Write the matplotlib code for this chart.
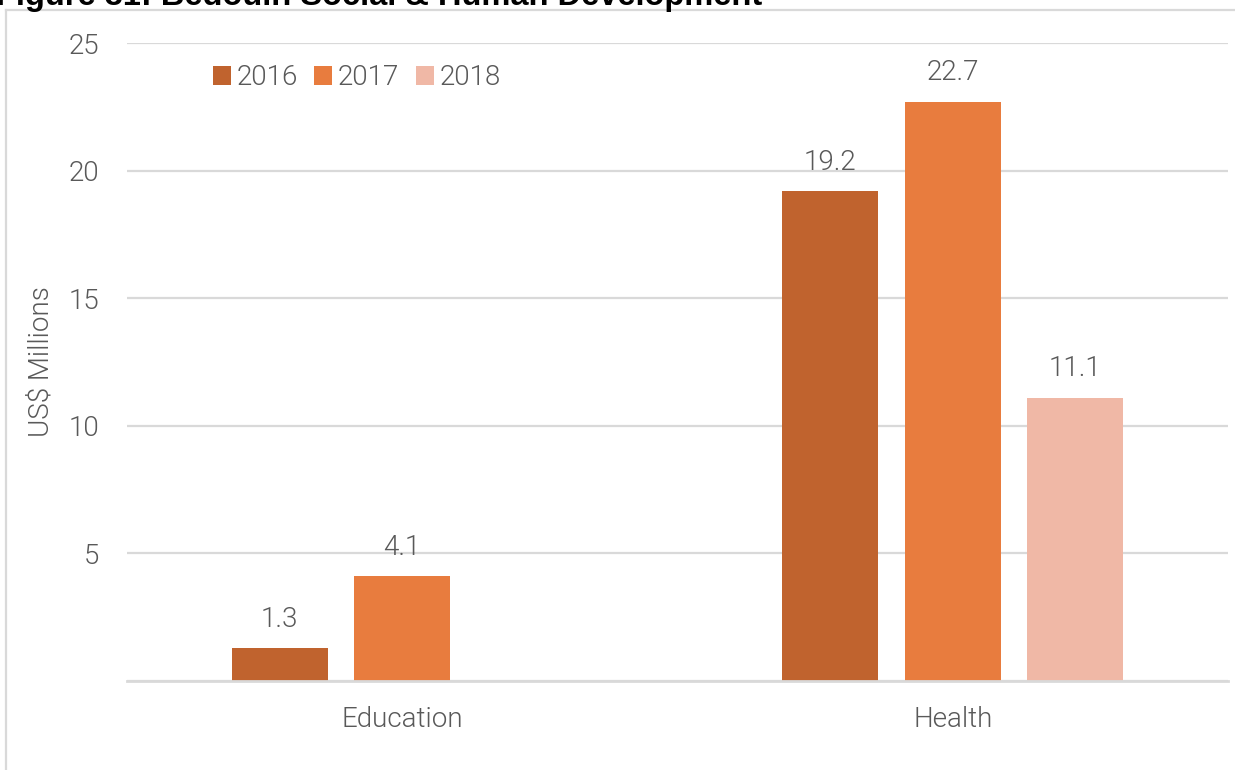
import matplotlib.pyplot as plt
from matplotlib.lines import Line2D
import numpy as np

#------
#data

categories = ['Education', 'Health']
years = ['2016', '2017', '2018']
values_2016 = [1.3, 19.2]
values_2017 = [4.1, 22.7]
values_2018 = [np.nan, 11.1]
colors = ['#C0632E', '#E87C3E', '#F0B8A6']

#------
#figure set up

plt.rcParams['font.family'] = ['Roboto', 'DejaVu Sans']
text_col = '#595959'
grid_col = '#D9D9D9'
light = 300
fs = 20

W, H = 1235, 770
fig = plt.figure(figsize=(W / 100, H / 100), dpi=100)
ax = fig.add_axes([127 / W, 1 - 681 / H, (1228 - 127) / W, (681 - 43) / H])

#grey frame around the chart, cut by the picture edges
fig.add_artist(Line2D([6 / W, 1], [1 - 10 / H, 1 - 10 / H], transform=fig.transFigure,
                      color=grid_col, lw=1.6))
fig.add_artist(Line2D([6 / W, 6 / W], [0, 1 - 10 / H], transform=fig.transFigure,
                      color=grid_col, lw=1.6))

#title, mostly cut off at the top as in the source
fig.text(-4 / W, 1 - 5 / H, 'Figure 31: Bedouin Social & Human Development',
         fontsize=23.5, fontweight='bold', color='black', va='baseline', ha='left',
         family=['Liberation Sans', 'DejaVu Sans'])

#------
#bars

x = np.arange(len(categories))
bar_w = 0.1744
step = 0.2225
series = [values_2016, values_2017, values_2018]
for i, (yr, vals) in enumerate(zip(years, series)):
    pos = x + (i - 1) * step
    ax.bar(pos, vals, width=bar_w, color=colors[i], label=yr, zorder=3)
    for p, v in zip(pos, vals):
        if np.isnan(v):
            continue
        ax.annotate(f'{v:.1f}', (p, v), xytext=(0, 11), textcoords='offset points',
                    ha='center', va='bottom', fontsize=fs, color=text_col,
                    fontweight=light)

#------
#axes styling

ax.set_xlim(-0.5, 1.5)
ax.set_ylim(0, 25)
ax.set_yticks([0, 5, 10, 15, 20, 25])
ax.set_yticklabels(['', '5', '10', '15', '20', '25'])
ax.set_xticks(x)
ax.set_xticklabels(categories)
ax.tick_params(axis='both', length=0, labelsize=fs, labelcolor=text_col)
ax.tick_params(axis='y', pad=20)
ax.tick_params(axis='x', pad=18)
for lab in ax.get_xticklabels() + ax.get_yticklabels():
    lab.set_fontweight(light)
ax.grid(axis='y', color=grid_col, lw=1.6, zorder=0)
for s in ['top', 'right', 'left']:
    ax.spines[s].set_visible(False)
ax.spines['bottom'].set_color(grid_col)
ax.spines['bottom'].set_linewidth(2)
ax.spines['bottom'].set_zorder(4)

ax.set_ylabel('US$ Millions', fontsize=fs, color=text_col, fontweight=light,
              labelpad=10)

leg = ax.legend(loc='upper left', bbox_to_anchor=(0.055, 1.006), ncol=3, frameon=False,
                fontsize=fs, handlelength=0.65, handleheight=0.65, handletextpad=0.2,
                columnspacing=0.6, labelcolor=text_col)
for t in leg.get_texts():
    t.set_fontweight(light)

fig.savefig('out.png', dpi=100)
